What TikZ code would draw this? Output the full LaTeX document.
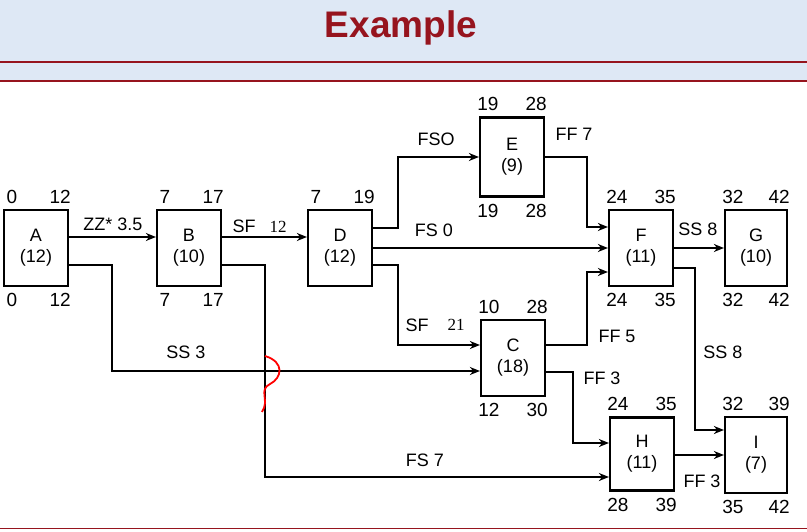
\documentclass[tikz,border=0pt]{standalone}
\usepackage{fontspec}
\setmainfont{Liberation Sans}
\newfontfamily\serifnum{Liberation Serif}
\usetikzlibrary{arrows.meta}
\definecolor{hdr}{RGB}{222,232,245}
\definecolor{dred}{RGB}{150,20,30}
\begin{document}
\begin{tikzpicture}[x=1pt,y=-1pt,
  act/.style={draw,line width=2.2pt,minimum width=64pt,minimum height=76pt,inner sep=0pt,align=center,font=\fontsize{18}{21}\selectfont},
  lnk/.style={line width=2.2pt,-{Stealth[length=10pt,width=8pt]}},
  lab/.style={font=\fontsize{18}{20}\selectfont},
  num/.style={font=\fontsize{19}{21}\selectfont}]
\useasboundingbox (0,0) rectangle (807,532);
\fill[hdr] (0,0) rectangle (807,81);
\node[font=\bfseries\fontsize{37}{40}\selectfont,text=dred] (title) at (401,28) {Example};
\draw[dred,line width=2.6pt] (0,62) -- (807,62);
\draw[dred,line width=2.6pt] (0,81) -- (807,81);
\draw[dred,line width=1pt] (0,528) -- (807,528);
% boxes
\node[act] (A) at (36,248) {A\\(12)};
\node[act] (B) at (189,248) {B\\(10)};
\node[act] (D) at (340,248) {D\\(12)};
\node[act,minimum height=79pt] (E) at (512,157) {E\\(9)};
\node[act] (F) at (641,248) {F\\(11)};
\node[act,minimum width=62pt] (G) at (756,248) {G\\(10)};
\node[act] (C) at (513,358) {C\\(18)};
\node[act,minimum height=73pt] (H) at (642,454) {H\\(11)};
\node[act,minimum width=62pt] (I) at (756,455) {I\\(7)};
% numbers
\foreach \b/\tl/\tr/\bl/\br in {A/0/12/0/12,B/7/17/7/17,D/7/19/{}/{},E/19/28/19/28,F/24/35/24/35,G/32/42/32/42,C/10/28/12/30,H/24/35/28/39,I/32/39/35/42}{
  \node[num,anchor=south] (\b tl) at ([xshift=9pt,yshift=2pt]\b.north west) {\tl};
  \node[num,anchor=south] (\b tr) at ([xshift=-9pt,yshift=2pt]\b.north east) {\tr};
  \node[num,anchor=north] (\b bl) at ([xshift=9pt,yshift=-3pt]\b.south west) {\bl};
  \node[num,anchor=north] (\b br) at ([xshift=-9pt,yshift=-3pt]\b.south east) {\br};
}
% links
\draw[lnk] (A.east |- 0,237) -- (B.west |- 0,237);
\node[lab] (l1) at (113,224) {ZZ* 3.5};
\draw[lnk] (A.east |- 0,265) -| (112,371) -- (C.west |- 0,371);
\node[lab] (l2) at (186,352) {SS 3};
\draw[lnk] (B.east |- 0,265) -- (265,265) -- (265,477) -- (H.west |- 0,477);
\draw[red,line width=1.8pt] (265,356) .. controls (285,362) and (282,378) .. (270,384) .. controls (258,390) and (270,400) .. (262,412);
\node[lab] (l3) at (425,460) {FS 7};
\draw[lnk] (B.east |- 0,237) -- (D.west |- 0,237);
\node[lab,anchor=west] (l4) at (229,226) {SF};
\node[font=\serifnum\fontsize{17}{19}\selectfont] (l4b) at (278,227) {12};
\draw[lnk] (D.east |- 0,228) -- (398,228) |- (E.west |- 0,157);
\node[lab] (l5) at (436,139) {FSO};
\draw[lnk] (D.east |- 0,248) -- (F.west |- 0,248);
\node[lab] (l6) at (434,230) {FS 0};
\draw[lnk] (D.east |- 0,265) -- (398,265) |- (C.west |- 0,345);
\node[lab,anchor=west] (l7) at (402,325) {SF};
\node[font=\serifnum\fontsize{17}{19}\selectfont] (l7b) at (456,325) {21};
\draw[lnk] (E.east |- 0,157) -- (587,157) |- (F.west |- 0,227);
\node[lab] (l8) at (574,134) {FF 7};
\draw[lnk] (C.east |- 0,345) -- (587,345) |- (F.west |- 0,272);
\node[lab] (l9) at (617,336) {FF 5};
\draw[lnk] (C.east |- 0,372) -- (573,372) |- (H.west |- 0,443);
\node[lab] (l10) at (602,378) {FF 3};
\draw[lnk] (F.east |- 0,248) -- (G.west |- 0,248);
\node[lab] (l11) at (698,229) {SS 8};
\draw[lnk] (F.east |- 0,268) -- (695,268) |- (I.west |- 0,430);
\node[lab] (l12) at (723,352) {SS 8};
\draw[lnk] (H.east |- 0,455) -- (I.west |- 0,455);
\node[lab] (l13) at (702,481) {FF 3};
\end{tikzpicture}
\end{document}
